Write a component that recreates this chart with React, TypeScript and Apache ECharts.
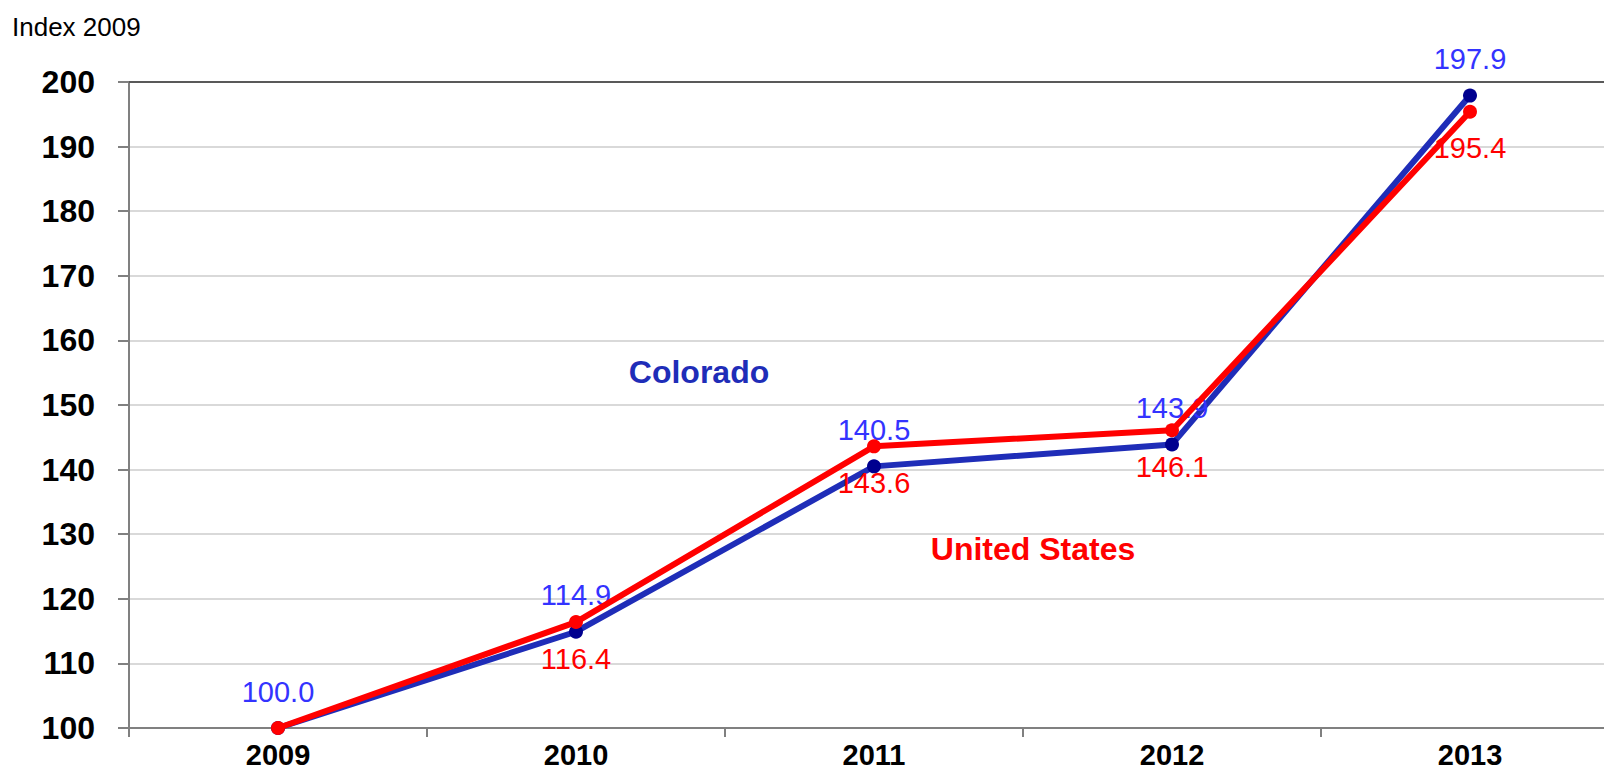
import React, { useEffect, useRef } from "react";
import * as echarts from "echarts";

const years = ["2009", "2010", "2011", "2012", "2013"];
const colorado = [100.0, 114.9, 140.5, 143.9, 197.9];
const unitedStates = [100.0, 116.4, 143.6, 146.1, 195.4];
const yMin = 100;
const yMax = 200;
const yStep = 10;

const FONT = "'Liberation Sans', Arial, sans-serif";

export default function App() {
  const ref = useRef<HTMLDivElement>(null);
  useEffect(() => {
    if (!ref.current) return;
    const chart = echarts.init(ref.current, undefined, { renderer: "svg" });
    const fmt = (p: any) => Number(p.value).toFixed(1);
    chart.setOption({
      animation: false,
      backgroundColor: "#ffffff",
      textStyle: { fontFamily: FONT },
      grid: { left: 129, width: 1490, top: 82, height: 646, containLabel: false, outerBoundsMode: "none" },
      xAxis: {
        type: "category",
        data: years,
        boundaryGap: true,
        axisLine: { lineStyle: { color: "#808080", width: 2 } },
        axisTick: { show: true, length: 9, lineStyle: { color: "#808080", width: 2 } },
        axisLabel: { color: "#000", fontSize: 29, fontWeight: "bold", fontFamily: FONT, margin: 12 },
        splitLine: { show: false },
      },
      yAxis: {
        type: "value",
        min: yMin,
        max: yMax,
        interval: yStep,
        axisLine: { show: true, lineStyle: { color: "#808080", width: 2 } },
        axisTick: { show: true, length: 11, lineStyle: { color: "#808080", width: 2 } },
        axisLabel: { color: "#000", fontSize: 32, fontWeight: "bold", fontFamily: FONT, margin: 34 },
        splitLine: { show: true, lineStyle: { color: "#D9D9D9", width: 2 } },
      },
      graphic: [
        {
          type: "text",
          x: 12,
          y: 27,
          style: { text: "Index 2009", fill: "#000", fontSize: 26, fontFamily: FONT, verticalAlign: "middle", align: "left" },
        },
        {
          type: "text",
          x: 699,
          y: 372,
          style: { text: "Colorado", fill: "#1F2DB8", fontSize: 32, fontWeight: "bold", fontFamily: FONT, verticalAlign: "middle", align: "center" },
        },
        {
          type: "text",
          x: 1033,
          y: 549,
          style: { text: "United States", fill: "#FF0000", fontSize: 32, fontWeight: "bold", fontFamily: FONT, verticalAlign: "middle", align: "center" },
        },
      ],
      series: [
        {
          name: "Colorado",
          type: "line",
          data: colorado,
          symbol: "circle",
          symbolSize: 14,
          lineStyle: { color: "#1F2DB8", width: 6 },
          itemStyle: { color: "#00008F" },
          label: {
            show: true,
            position: "top",
            distance: 15,
            color: "#3333FF",
            fontSize: 29,
            fontFamily: FONT,
            formatter: fmt,
          },
          markLine: {
            silent: true,
            symbol: "none",
            label: { show: false },
            lineStyle: { color: "#595959", width: 2, type: "solid" },
            data: [{ yAxis: yMax }],
          },
          z: 2,
        },
        {
          name: "United States",
          type: "line",
          data: unitedStates.map((v, i) => (i === 0 ? { value: v, label: { show: false } } : v)),
          symbol: "circle",
          symbolSize: 14,
          lineStyle: { color: "#FF0000", width: 6 },
          itemStyle: { color: "#FF0000" },
          label: {
            show: true,
            position: "bottom",
            distance: 15,
            color: "#FF0000",
            fontSize: 29,
            fontFamily: FONT,
            formatter: fmt,
          },
          z: 3,
        },
      ],
    });
    return () => chart.dispose();
  }, []);
  return <div ref={ref} style={{ position: "fixed", left: 0, top: 0, width: 1604, height: 773 }} />;
}
